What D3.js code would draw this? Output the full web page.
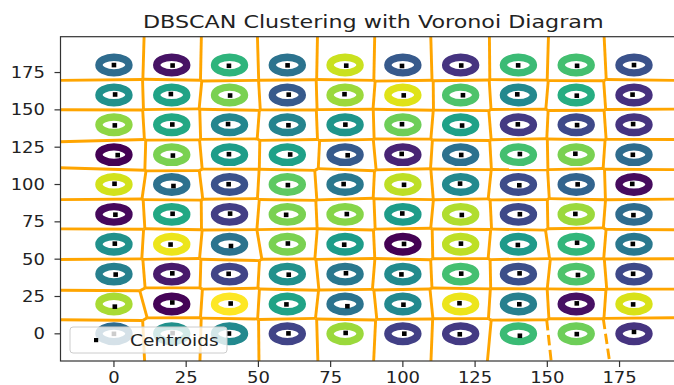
<!DOCTYPE html>
<html>
<head>
<meta charset="utf-8">
<script src="https://cdn.jsdelivr.net/npm/d3@7"></script>
<style>
  body { margin: 0; background: #fff; }
  text { font-family: "DejaVu Sans", sans-serif; fill: #222; }
</style>
</head>
<body>
<div id="chart"></div>
<script>
// grid of ring centres (rows listed top to bottom as in the picture)
const xCols = [0, 20, 40, 60, 80, 100, 120, 140, 160, 180];
const yRows = [180, 160, 140, 120, 100, 80, 60, 40, 20, 0];

// viridis position of each cluster's colour
const ringColor = [
  [0.35, 0.05, 0.65, 0.38, 0.92, 0.28, 0.15, 0.68, 0.70, 0.25],
  [0.50, 0.58, 0.80, 0.28, 0.85, 0.95, 0.72, 0.47, 0.62, 0.14],
  [0.83, 0.60, 0.46, 0.45, 0.52, 0.78, 0.57, 0.17, 0.22, 0.15],
  [0.00, 0.80, 0.55, 0.57, 0.28, 0.10, 0.37, 0.70, 0.80, 0.35],
  [0.93, 0.37, 0.25, 0.75, 0.40, 0.90, 0.47, 0.23, 0.32, 0.03],
  [0.02, 0.60, 0.18, 0.80, 0.82, 0.55, 0.88, 0.22, 0.85, 0.35],
  [0.50, 0.97, 0.38, 0.80, 0.55, 0.00, 0.90, 0.54, 0.66, 0.40],
  [0.43, 0.07, 0.20, 0.50, 0.40, 0.48, 0.70, 0.24, 0.72, 0.22],
  [0.87, 0.01, 1.00, 0.58, 0.38, 0.47, 0.97, 0.43, 0.04, 0.94],
  [0.35, 0.50, 0.47, 0.20, 0.85, 0.19, 0.17, 0.68, 0.78, 0.15]
];

// centroid offset from the ring centre
const centroidDx = [
  [0.0, 0.3, -0.2, 0.1, 0.4, -0.3, 0.2, -0.1, 0.3, 0.0],
  [0.4, -0.3, 0.2, 0.5, -0.2, 0.3, 0.8, -0.4, 0.2, -0.5],
  [0.3, 0.2, -0.5, 0.4, 0.1, -0.3, 0.5, -0.2, 0.3, -0.3],
  [1.3, 0.4, -0.2, 1.0, 0.9, -0.4, 0.2, 0.5, -0.3, -0.4],
  [0.2, 0.6, -0.3, 0.2, -0.5, 0.4, -0.2, 0.3, 0.5, -0.6],
  [0.5, 0.3, 0.2, -0.4, 0.6, -0.2, 0.4, 0.5, -0.3, -0.2],
  [0.3, -0.4, 0.5, 0.2, -0.3, 0.4, 0.1, -0.2, 0.3, -0.4],
  [0.6, 0.2, -0.3, 0.5, 0.3, -0.5, 0.2, 0.4, 0.6, -0.3],
  [0.3, 0.2, 0.4, -0.3, 0.8, 0.2, -0.4, 0.3, 0.2, -0.3],
  [0.0, 0.3, -0.2, 0.4, 0.2, 0.5, -0.3, 0.5, 0.2, 0.0]
];
const centroidDy = [
  [0.0, -0.3, -0.5, -0.2, -0.4, -0.6, -0.3, -0.2, -0.5, 0.0],
  [0.3, 0.6, -0.4, 0.2, 0.5, -0.3, -0.2, 0.4, -0.5, 0.2],
  [-0.4, 0.2, 0.5, -0.3, 0.1, 0.4, -0.5, 0.3, -0.2, 0.5],
  [-0.3, -0.6, 0.3, 0.1, -0.4, 0.5, -0.2, 0.4, 0.6, -0.1],
  [0.5, -1.0, 0.2, -0.4, 0.3, -0.2, 0.6, -0.5, 0.1, 0.4],
  [-0.2, 0.4, 0.5, -0.3, 0.2, 0.6, -0.4, 0.1, 0.3, -0.5],
  [0.4, -0.2, -1.2, 0.5, -0.3, 0.2, 0.4, -0.5, 1.0, 0.2],
  [-0.3, 0.5, 0.2, -0.4, 0.6, -0.2, 0.3, 0.5, -0.6, 0.2],
  [-1.8, 1.0, 0.3, -0.3, -1.5, -0.5, 0.5, -0.2, 0.4, -0.3],
  [0.0, 0.5, 0.2, 0.3, 0.6, 0.1, -0.3, -1.3, -0.2, 1.3]
];

const xTicks = [0, 25, 50, 75, 100, 125, 150, 175];
const yTicks = [0, 25, 50, 75, 100, 125, 150, 175];
const ringRadius = 5.2;
const titleText = 'DBSCAN Clustering with Voronoi Diagram';
const legendLabel = 'Centroids';

const width = 674, height = 385;
const box = { left: 60.5, right: 686, top: 36.7, bottom: 361 };
const stretch = 1.2;

const x = d3.scaleLinear().domain([-18.5, 198]).range([box.left, box.right]);
const y = d3.scaleLinear().domain([-18.2, 199]).range([box.bottom, box.top]);

const svg = d3.select('#chart').append('svg')
  .attr('width', width)
  .attr('height', height);

svg.append('defs').append('clipPath').attr('id', 'plot-clip')
  .append('rect')
  .attr('x', box.left).attr('y', box.top)
  .attr('width', box.right - box.left).attr('height', box.bottom - box.top);

const pts = [];
yRows.forEach((yv, r) => {
  xCols.forEach((xv, c) => {
    pts.push({
      gx: xv, gy: yv,
      cx: xv + centroidDx[r][c],
      cy: yv + centroidDy[r][c],
      color: d3.interpolateViridis(ringColor[r][c])
    });
  });
});

const plot = svg.append('g').attr('clip-path', 'url(#plot-clip)');

// rings of cluster points
plot.append('g').selectAll('ellipse')
  .data(pts)
  .enter().append('ellipse')
  .attr('cx', d => x(d.gx))
  .attr('cy', d => y(d.gy))
  .attr('rx', x(ringRadius) - x(0))
  .attr('ry', y(0) - y(ringRadius))
  .attr('fill', 'none')
  .attr('stroke', d => d.color)
  .attr('stroke-width', 7.4);

// voronoi of the centroids, finite ridges solid, infinite ones dashed
const delaunay = d3.Delaunay.from(pts, d => d.cx, d => d.cy);
const tri = delaunay.triangles, half = delaunay.halfedges;

function circumcenter(t) {
  const a = pts[tri[3 * t]], b = pts[tri[3 * t + 1]], c = pts[tri[3 * t + 2]];
  const d = 2 * (a.cx * (b.cy - c.cy) + b.cx * (c.cy - a.cy) + c.cx * (a.cy - b.cy));
  const a2 = a.cx * a.cx + a.cy * a.cy, b2 = b.cx * b.cx + b.cy * b.cy, c2 = c.cx * c.cx + c.cy * c.cy;
  return [
    (a2 * (b.cy - c.cy) + b2 * (c.cy - a.cy) + c2 * (a.cy - b.cy)) / d,
    (a2 * (c.cx - b.cx) + b2 * (a.cx - c.cx) + c2 * (b.cx - a.cx)) / d
  ];
}

// keep huge far-away vertices out of the svg
function clip(p, q) {
  const lo = -80, hi = 280;
  let t0 = 0, t1 = 1;
  const dx = q[0] - p[0], dy = q[1] - p[1];
  const checks = [[-dx, p[0] - lo], [dx, hi - p[0]], [-dy, p[1] - lo], [dy, hi - p[1]]];
  for (const [pp, qq] of checks) {
    if (pp === 0) { if (qq < 0) return null; continue; }
    const r = qq / pp;
    if (pp < 0) { if (r > t1) return null; if (r > t0) t0 = r; }
    else { if (r < t0) return null; if (r < t1) t1 = r; }
  }
  return [[p[0] + t0 * dx, p[1] + t0 * dy], [p[0] + t1 * dx, p[1] + t1 * dy]];
}

const centre = [d3.mean(pts, d => d.cx), d3.mean(pts, d => d.cy)];
const ptp = Math.max(d3.max(pts, d => d.cx) - d3.min(pts, d => d.cx),
                     d3.max(pts, d => d.cy) - d3.min(pts, d => d.cy));
const solid = [], dashed = [];
for (let e = 0; e < tri.length; e++) {
  const h = half[e];
  if (h > e) {
    const s = clip(circumcenter(Math.floor(e / 3)), circumcenter(Math.floor(h / 3)));
    if (s) solid.push(s);
  } else if (h === -1) {
    const pi = pts[tri[e]], pj = pts[tri[e % 3 === 2 ? e - 2 : e + 1]];
    let tx = pj.cx - pi.cx, ty = pj.cy - pi.cy;
    const len = Math.hypot(tx, ty);
    tx /= len; ty /= len;
    let nx = -ty, ny = tx;
    const mx = (pi.cx + pj.cx) / 2, my = (pi.cy + pj.cy) / 2;
    const sg = Math.sign((mx - centre[0]) * nx + (my - centre[1]) * ny);
    nx *= sg; ny *= sg;
    const v = circumcenter(Math.floor(e / 3));
    const s = clip(v, [v[0] + nx * ptp, v[1] + ny * ptp]);
    if (s) dashed.push(s);
  }
}

const ridgeLine = d3.line().x(d => x(d[0])).y(d => y(d[1]));
const ridges = plot.append('g')
  .attr('fill', 'none')
  .attr('stroke', '#ffa500')
  .attr('stroke-width', 2.9);
ridges.selectAll('path.solid')
  .data(solid)
  .enter().append('path')
  .attr('class', 'solid')
  .attr('d', ridgeLine);
ridges.selectAll('path.dashed')
  .data(dashed)
  .enter().append('path')
  .attr('class', 'dashed')
  .attr('stroke-dasharray', '10.5,4.6')
  .attr('d', ridgeLine);

// centroids
plot.append('g').selectAll('rect')
  .data(pts)
  .enter().append('rect')
  .attr('x', d => x(d.cx) - 2.3)
  .attr('y', d => y(d.cy) - 2.3)
  .attr('width', 4.6)
  .attr('height', 4.6)
  .attr('fill', '#000');

// frame
svg.append('rect')
  .attr('x', box.left).attr('y', box.top)
  .attr('width', box.right - box.left).attr('height', box.bottom - box.top)
  .attr('fill', 'none')
  .attr('stroke', '#333')
  .attr('stroke-width', 1.2);

// ticks
const xt = svg.append('g');
xTicks.forEach(v => {
  xt.append('line')
    .attr('x1', x(v)).attr('x2', x(v))
    .attr('y1', box.bottom).attr('y2', box.bottom + 6)
    .attr('stroke', '#333').attr('stroke-width', 1.2);
  xt.append('text')
    .attr('transform', `translate(${x(v)},${box.bottom + 21.5}) scale(${stretch},1)`)
    .attr('text-anchor', 'middle')
    .style('font-size', '15px')
    .text(v);
});
const yt = svg.append('g');
yTicks.forEach(v => {
  yt.append('line')
    .attr('x1', box.left - 6).attr('x2', box.left)
    .attr('y1', y(v)).attr('y2', y(v))
    .attr('stroke', '#333').attr('stroke-width', 1.2);
  yt.append('text')
    .attr('transform', `translate(${box.left - 15.5},${y(v)}) scale(${stretch},1)`)
    .attr('text-anchor', 'end')
    .attr('dy', '0.36em')
    .style('font-size', '15px')
    .text(v);
});

// title
svg.append('text')
  .attr('transform', `translate(${(box.left + box.right) / 2},28.3) scale(1.235,1)`)
  .attr('text-anchor', 'middle')
  .style('font-size', '18px')
  .text(titleText);

// legend
const lg = svg.append('g');
lg.append('rect')
  .attr('x', 70).attr('y', 327)
  .attr('width', 157).attr('height', 26)
  .attr('rx', 3)
  .attr('fill', '#fff').attr('fill-opacity', 0.8)
  .attr('stroke', '#ccc');
lg.append('rect')
  .attr('x', 94).attr('y', 338)
  .attr('width', 4.2).attr('height', 4.2)
  .attr('fill', '#000');
lg.append('text')
  .attr('transform', `translate(130,345.5) scale(${stretch},1)`)
  .style('font-size', '15.5px')
  .text(legendLabel);
</script>
</body>
</html>
